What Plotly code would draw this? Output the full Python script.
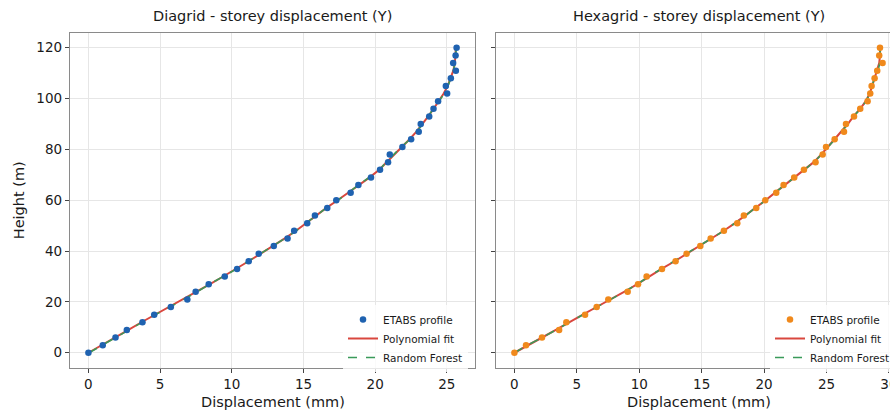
import plotly.graph_objects as go

# ---------------- data ----------------
heights = [0, 3, 6, 9, 12, 15, 18, 21, 24, 27, 30, 33, 36, 39, 42, 45, 48, 51, 54, 57,
           60, 63, 66, 69, 72, 75, 78, 81, 84, 87, 90, 93, 96, 99, 102, 105, 108, 111,
           114, 117, 120]

diagrid_etabs = [0.00, 1.00, 1.89, 2.68, 3.77, 4.59, 5.75, 6.90, 7.48, 8.39, 9.51, 10.37,
                 11.18, 11.88, 12.93, 13.89, 14.35, 15.26, 15.80, 16.66, 17.29, 18.29,
                 18.83, 19.71, 20.34, 20.90, 21.02, 21.90, 22.51, 23.04, 23.18, 23.77,
                 24.07, 24.39, 25.02, 24.93, 25.28, 25.63, 25.44, 25.61, 25.68]
diagrid_poly = [0.00, 0.96, 1.88, 2.79, 3.70, 4.66, 5.68, 6.66, 7.58, 8.48, 9.40, 10.32,
                11.17, 12.02, 12.88, 13.70, 14.48, 15.18, 15.90, 16.60, 17.38, 18.14,
                18.90, 19.62, 20.28, 20.82, 21.32, 21.84, 22.40, 22.88, 23.32, 23.70,
                24.08, 24.46, 24.78, 25.06, 25.28, 25.45, 25.56, 25.60, 25.63]
diagrid_rf = [0.05, 0.98, 1.86, 2.77, 3.69, 4.68, 5.70, 6.68, 7.59, 8.46, 9.40, 10.34,
              11.15, 12.00, 12.90, 13.71, 14.50, 15.16, 15.91, 16.60, 17.40, 18.13,
              18.92, 19.62, 20.30, 20.78, 21.28, 21.82, 22.44, 22.90, 23.33, 23.68,
              24.08, 24.48, 24.80, 25.08, 25.28, 25.46, 25.57, 25.60, 25.66]

hexagrid_etabs = [0.00, 0.93, 2.21, 3.58, 4.16, 5.66, 6.59, 7.52, 9.07, 9.90, 10.59, 11.82,
                  12.91, 13.79, 14.89, 15.72, 16.78, 17.85, 18.38, 19.37, 20.09, 20.97,
                  21.56, 22.41, 23.19, 24.12, 24.69, 24.96, 25.65, 26.40, 26.56, 27.20,
                  27.70, 28.29, 28.50, 28.61, 28.85, 29.06, 29.49, 29.22, 29.28]
hexagrid_poly = [0.00, 1.05, 2.22, 3.32, 4.45, 5.48, 6.58, 7.72, 8.82, 9.84, 10.78, 11.78,
                 12.84, 13.85, 14.81, 15.80, 16.77, 17.67, 18.52, 19.30, 20.12, 20.88,
                 21.65, 22.40, 23.22, 23.98, 24.58, 25.12, 25.68, 26.20, 26.70, 27.16,
                 27.70, 28.14, 28.46, 28.66, 28.86, 29.08, 29.22, 29.28, 29.30]
hexagrid_rf = [0.02, 1.04, 2.24, 3.31, 4.47, 5.47, 6.59, 7.73, 8.83, 9.85, 10.77, 11.77,
               12.84, 13.86, 14.80, 15.80, 16.78, 17.67, 18.53, 19.28, 20.14, 20.87,
               21.65, 22.39, 23.24, 24.00, 24.59, 25.10, 25.67, 26.20, 26.72, 27.15,
               27.73, 28.16, 28.47, 28.65, 28.84, 29.13, 29.26, 29.30, 29.28]

panel_titles = ["Diagrid - storey displacement (Y)", "Hexagrid - storey displacement (Y)"]
x_label = "Displacement (mm)"
y_label = "Height (m)"
x_ticks = [0, 5, 10, 15, 20, 25, 30]
y_ticks = [0, 20, 40, 60, 80, 100, 120]

# ---------------- styling ----------------
W, H = 910, 412
FONT = "DejaVu Sans"
TXT = "#1a1a1a"
BLUE = "#1f62b0"
ORANGE = "#f0891c"
RED = "#d9473e"
GREEN = "#3a9a5a"
GRID = "#e6e6e6"
SPINE = "#8a8a8a"


def px_x(p):
    return p / W


def px_y(p):
    return 1 - p / H


fig = go.Figure()

panels = [
    dict(xa="x", ya="y", etabs=diagrid_etabs, poly=diagrid_poly, rf=diagrid_rf,
         color=BLUE, legend="legend"),
    dict(xa="x2", ya="y2", etabs=hexagrid_etabs, poly=hexagrid_poly, rf=hexagrid_rf,
         color=ORANGE, legend="legend2"),
]

for p in panels:
    fig.add_trace(go.Scatter(x=p["poly"], y=heights, mode="lines", name="Polynomial fit",
                             line=dict(color=RED, width=2), xaxis=p["xa"], yaxis=p["ya"],
                             legend=p["legend"], legendrank=2))
    fig.add_trace(go.Scatter(x=p["rf"], y=heights, mode="lines", name="Random Forest",
                             line=dict(color=GREEN, width=1.6, dash="dash"),
                             xaxis=p["xa"], yaxis=p["ya"], legend=p["legend"], legendrank=3))
    fig.add_trace(go.Scatter(x=p["etabs"], y=heights, mode="markers", name="ETABS profile",
                             marker=dict(color=p["color"], size=6.5, line=dict(width=0)),
                             xaxis=p["xa"], yaxis=p["ya"], legend=p["legend"], legendrank=1))

# axes geometry (pixels)
L1, R1 = 70, 475
L2, R2 = 496, 901
TOP, BOT = 32.5, 368

axis_common = dict(
    showgrid=True, gridcolor=GRID, gridwidth=1, zeroline=False,
    showline=True, linecolor=SPINE, linewidth=1.3, mirror=True,
    ticks="outside", ticklen=4, tickcolor="#444", tickwidth=1,
    tickfont=dict(family=FONT, size=13.5, color=TXT), automargin=False,
)

fig.update_layout(
    width=W, height=H,
    margin=dict(l=0, r=0, t=0, b=0, autoexpand=False),
    paper_bgcolor="white", plot_bgcolor="white",
    font=dict(family=FONT, color=TXT),
    xaxis=dict(domain=[px_x(L1), px_x(R1)], range=[-1.284, 26.964], tickvals=x_ticks,
               anchor="y", **axis_common),
    yaxis=dict(domain=[px_y(BOT), px_y(TOP)], range=[-6, 126], tickvals=y_ticks,
               anchor="x", **axis_common),
    xaxis2=dict(domain=[px_x(L2), px_x(R2)], range=[-1.4745, 30.9645], tickvals=x_ticks,
                anchor="y2", **axis_common),
    yaxis2=dict(domain=[px_y(BOT), px_y(TOP)], range=[-6, 126], tickvals=y_ticks,
                anchor="x2", showticklabels=False, matches="y",
                **{k: v for k, v in axis_common.items() if k != "tickfont"}),
    legend=dict(x=px_x(343), y=px_y(305), xanchor="left", yanchor="top",
                bgcolor="rgba(255,255,255,0.8)", borderwidth=0,
                font=dict(family=FONT, size=10.5, color=TXT), tracegroupgap=0,
                itemwidth=30),
    legend2=dict(x=px_x(770), y=px_y(305), xanchor="left", yanchor="top",
                 bgcolor="rgba(255,255,255,0.8)", borderwidth=0,
                 font=dict(family=FONT, size=10.5, color=TXT), tracegroupgap=0,
                 itemwidth=30),
    showlegend=True,
)

annotations = [
    dict(text=panel_titles[0], x=px_x((L1 + R1) / 2), y=px_y(26)),
    dict(text=panel_titles[1], x=px_x((L2 + R2) / 2), y=px_y(26)),
]
for a in annotations:
    fig.add_annotation(xref="paper", yref="paper", xanchor="center", yanchor="bottom",
                       showarrow=False, font=dict(family=FONT, size=14.5, color=TXT), **a)

fig.add_annotation(text=x_label, xref="paper", yref="paper", x=px_x((L1 + R1) / 2),
                   y=px_y(412), xanchor="center", yanchor="bottom", showarrow=False,
                   font=dict(family=FONT, size=14.5, color=TXT))
fig.add_annotation(text=x_label, xref="paper", yref="paper", x=px_x((L2 + R2) / 2),
                   y=px_y(412), xanchor="center", yanchor="bottom", showarrow=False,
                   font=dict(family=FONT, size=14.5, color=TXT))
fig.add_annotation(text=y_label, xref="paper", yref="paper", x=px_x(9), y=px_y((TOP + BOT) / 2),
                   xanchor="left", yanchor="middle", textangle=-90, showarrow=False,
                   font=dict(family=FONT, size=14.5, color=TXT))

fig.write_html("out.html", config={"displayModeBar": False},
               post_script="document.documentElement.style.overflow='hidden';"
                           "document.body.style.overflow='hidden';")
